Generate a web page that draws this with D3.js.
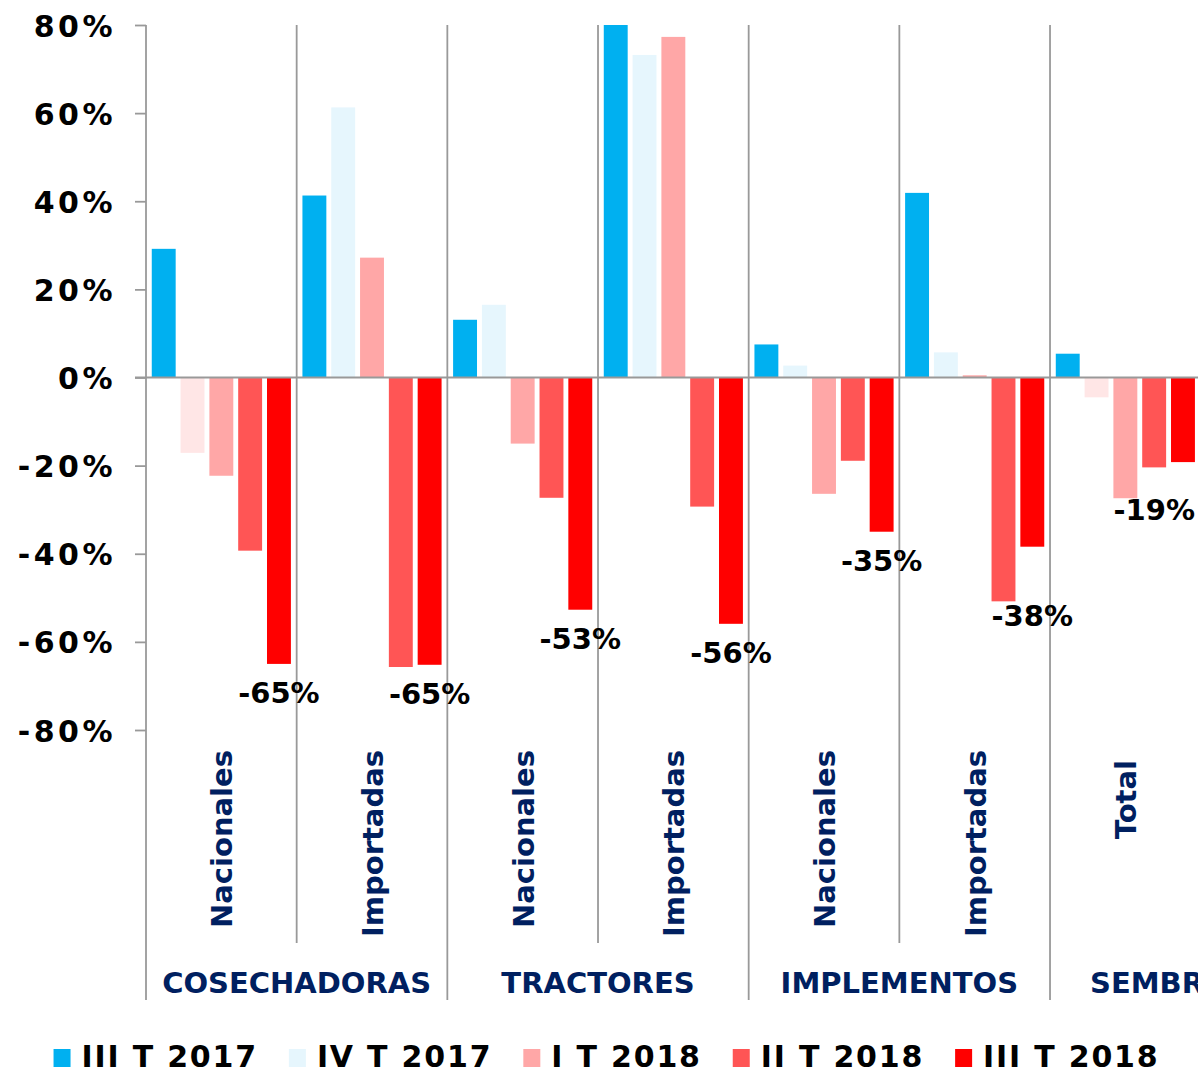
<!DOCTYPE html>
<html>
<head>
<meta charset="utf-8">
<script src="https://cdn.jsdelivr.net/npm/d3@7/dist/d3.min.js"></script>
<style>
  html, body { margin: 0; padding: 0; background: #fff; }
  svg { display: block; font-family: "DejaVu Sans", Verdana, sans-serif; font-weight: bold; }
</style>
</head>
<body>
<svg id="chart" width="1198" height="1073"></svg>
<script>
// ---- data ----
const categories = ["COSECHADORAS", "TRACTORES", "IMPLEMENTOS", "SEMBRADORAS"];
const subcategories = ["Nacionales", "Importadas", "Nacionales", "Importadas", "Nacionales", "Importadas", "Total"];
const subParent = [0, 0, 1, 1, 2, 2, 3];
const seriesNames = ["III T 2017", "IV T 2017", "I T 2018", "II T 2018", "III T 2018"];
const serIIIT2017 = [29.2, 41.3, 13.1, 88.0, 7.5, 41.9, 5.4];
const serIVT2017  = [-17.1, 61.3, 16.5, 73.2, 2.7, 5.7, -4.5];
const serIT2018   = [-22.3, 27.2, -15.0, 77.3, -26.4, 0.5, -27.4];
const serIIT2018  = [-39.3, -65.7, -27.3, -29.3, -18.9, -50.8, -20.4];
const serIIIT2018 = [-65.0, -65.2, -52.7, -55.9, -35.0, -38.4, -19.2];
const yTicks = [-80, -60, -40, -20, 0, 20, 40, 60, 80];
const seriesValues = [serIIIT2017, serIVT2017, serIT2018, serIIT2018, serIIIT2018];

// ---- styles / layout ----
const posColors = ["#00B0F0", "#E6F6FD", "#FFA7A7", "#FF5555", "#FF0000"];
const negColors = ["#00B0F0", "#FFE6E6", "#FFA7A7", "#FF5555", "#FF0000"];
const navy = "#002060";
const gray = "#999999";
const labelNudge = [0, 0, 0, 0, 0, 40, 19];

const svg = d3.select("#chart");
const W = 1198;
const plotLeft = 146, groupW = 150.67;
const plotRight = plotLeft + groupW * subcategories.length;
const yTop = 25, yBottom = 730;

const x0 = d3.scaleBand().domain(d3.range(subcategories.length)).range([plotLeft, plotRight]).padding(0);
const x1 = d3.scaleBand().domain(d3.range(seriesNames.length)).range([0, x0.bandwidth()])
  .paddingInner(0.17).paddingOuter(0.2);
const y = d3.scaleLinear().domain([-80, 80]).range([yBottom, yTop]);

svg.append("defs").append("clipPath").attr("id", "plotclip")
  .append("rect").attr("x", plotLeft).attr("y", yTop).attr("width", plotRight - plotLeft).attr("height", yBottom - yTop);

// bars
const gBars = svg.append("g").attr("clip-path", "url(#plotclip)");
seriesValues.forEach((vals, si) => {
  gBars.selectAll(".s" + si).data(vals).join("rect")
    .attr("x", (d, i) => x0(i) + x1(si))
    .attr("width", x1.bandwidth())
    .attr("y", d => y(Math.max(0, d)))
    .attr("height", d => Math.abs(y(d) - y(0)))
    .attr("fill", d => d < 0 ? negColors[si] : posColors[si]);
});

// vertical group lines
d3.range(1, subcategories.length + 1).forEach(i => {
  const xx = x0(i - 1) + x0.bandwidth();
  const major = i === subcategories.length || subParent[i] !== subParent[i - 1];
  svg.append("line")
    .attr("x1", xx).attr("x2", xx)
    .attr("y1", yTop).attr("y2", major ? 1000 : 943)
    .attr("stroke", gray).attr("stroke-width", 1.8);
});

// y axis
const yAxis = d3.axisLeft(y).tickValues(yTicks).tickSize(11).tickPadding(19).tickFormat(d => d + "%");
const gy = svg.append("g").attr("transform", `translate(${plotLeft},0)`).call(yAxis);
gy.select(".domain").remove();
gy.selectAll(".tick line").attr("stroke", gray).attr("stroke-width", 1.8);
gy.selectAll(".tick text").attr("font-size", 30).attr("font-family", "DejaVu Sans").attr("font-weight", "bold")
  .attr("letter-spacing", 3.5).attr("fill", "#000").attr("dy", "0.37em");
svg.append("line").attr("x1", plotLeft).attr("x2", plotLeft).attr("y1", yTop).attr("y2", 1000)
  .attr("stroke", gray).attr("stroke-width", 1.8);

// zero line
svg.append("line").attr("x1", plotLeft - 11).attr("x2", W).attr("y1", y(0)).attr("y2", y(0))
  .attr("stroke", gray).attr("stroke-width", 2);

// data labels (last series)
const fmt = v => Math.round(v) + "%";
const lblG = svg.append("g");
serIIIT2018.forEach((v, i) => {
  const cx = x0(i) + x1(4) + x1.bandwidth() / 2;
  const t = lblG.append("text").text(fmt(v))
    .attr("font-size", 29).attr("fill", "#000").attr("text-anchor", "middle")
    .attr("x", cx).attr("y", y(v) + 39 + labelNudge[i]);
  const w = t.node().getComputedTextLength();
  if (cx + w / 2 > W - 3) t.attr("x", W - 3 - w / 2);
});

// sub-category labels
subcategories.forEach((s, i) => {
  const cx = x0(i) + x0.bandwidth() / 2 + 11;
  svg.append("text").text(s)
    .attr("font-size", 29).attr("fill", navy).attr("text-anchor", "end")
    .attr("transform", `translate(${cx},${s === "Total" ? 760 : 750}) rotate(-90)`);
});

// category labels (last one runs past the visible edge, as in the source)
categories.forEach((c, ci) => {
  const idx = subParent.map((p, i) => p === ci ? i : -1).filter(i => i >= 0);
  const xs = x0(idx[0]);
  const xe = x0(idx[idx.length - 1]) + x0.bandwidth();
  const last = ci === categories.length - 1;
  svg.append("text").text(c)
    .attr("font-size", 29).attr("fill", navy)
    .attr("text-anchor", last ? "start" : "middle")
    .attr("x", last ? xs + 40 : (xs + xe) / 2).attr("y", 993);
});

// legend
const leg = svg.append("g");
let lx = 0;
seriesNames.forEach((n, i) => {
  const g = leg.append("g").attr("transform", `translate(${lx},0)`);
  g.append("rect").attr("x", 0).attr("y", 1049).attr("width", 17).attr("height", 18).attr("fill", posColors[i]);
  const t = g.append("text").text(n).attr("x", 28).attr("y", 1067)
    .attr("font-size", 30).attr("letter-spacing", 1.8).attr("fill", "#000");
  lx += 28 + t.node().getComputedTextLength() + 31;
});
const legW = lx - 31;
leg.attr("transform", `translate(${(40 + 1173) / 2 - legW / 2},0)`);
</script>
</body>
</html>
